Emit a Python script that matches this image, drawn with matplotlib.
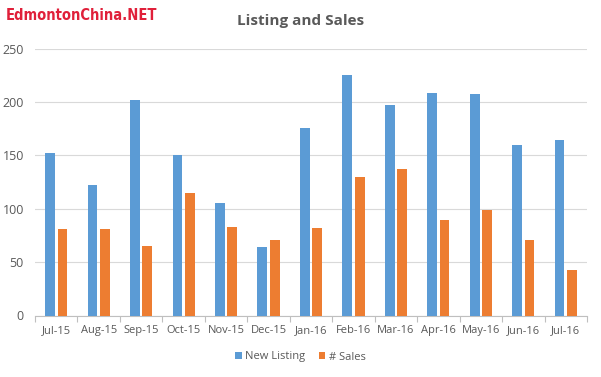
import numpy as np
import matplotlib
matplotlib.use("Agg")
import matplotlib.pyplot as plt

months = ["Jul-15", "Aug-15", "Sep-15", "Oct-15", "Nov-15", "Dec-15", "Jan-16",
          "Feb-16", "Mar-16", "Apr-16", "May-16", "Jun-16", "Jul-16"]
new_listing = [152, 122, 202, 150, 105, 64, 176, 225, 197, 208, 207, 160, 164]
sales = [81, 81, 65, 115, 83, 71, 82, 130, 137, 89, 99, 71, 43]

BLUE = "#5B9BD5"
ORANGE = "#ED7D31"
TEXT = "#595959"


def main():
    plt.rcParams["font.family"] = ["Open Sans", "DejaVu Sans"]
    fig = plt.figure(figsize=(6.01, 3.77), dpi=100)
    ax = fig.add_axes([35 / 601, 1 - 315.5 / 377, 552 / 601, 267 / 377])

    x = np.arange(len(months))
    w = 0.23
    ax.bar(x - 0.146, new_listing, width=w, color=BLUE, label="New Listing", zorder=3)
    ax.bar(x + 0.146, sales, width=w, color=ORANGE, label="# Sales", zorder=3)

    ax.set_xlim(-0.5, len(months) - 0.5)
    ax.set_ylim(0, 250)
    ax.set_yticks(range(0, 251, 50))
    ax.yaxis.grid(True, color="#D9D9D9", linewidth=0.8, zorder=0)
    ax.set_xticks(x)
    ax.set_xticklabels(months)
    ax.set_xticks(np.arange(-0.5, len(months), 1), minor=True)
    ax.tick_params(axis="x", which="major", length=0, pad=7, labelsize=8, labelcolor=TEXT)
    ax.tick_params(axis="x", which="minor", length=4, color="#BFBFBF", width=0.8)
    ax.tick_params(axis="y", length=0, pad=8, labelsize=9, labelcolor=TEXT)
    for s in ["top", "right", "left"]:
        ax.spines[s].set_visible(False)
    ax.spines["bottom"].set_color("#BFBFBF")
    ax.spines["bottom"].set_linewidth(0.8)

    fig.text(0.5, 1 - 21 / 377, "Listing and Sales", ha="center", va="center",
             fontsize=11, fontweight="bold", color=TEXT)
    fig.text(6 / 601, 1 - 15 / 377, "EdmontonChina.NET", ha="left", va="center",
             fontsize=10.5, fontweight="bold", color="#E0203A",
             family="DejaVu Sans", fontstretch="condensed")

    fig.legend(loc="center", bbox_to_anchor=(0.5, 1 - 357 / 377), ncol=2,
               frameon=False, fontsize=8, handlelength=0.6, handleheight=0.6,
               handletextpad=0.3, columnspacing=1.2, labelcolor=TEXT)

    plt.savefig("out.png", dpi=100)


if __name__ == "__main__":
    main()
